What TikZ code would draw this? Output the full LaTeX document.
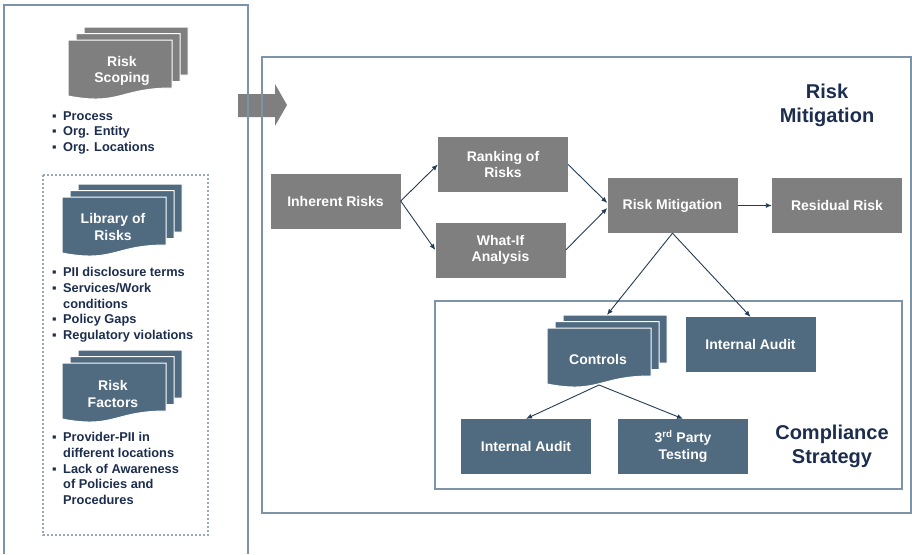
\documentclass[tikz,border=0pt]{standalone}
\usepackage{fontspec}
\setmainfont{Liberation Sans}
\usetikzlibrary{arrows.meta}

\definecolor{boxgray}{RGB}{127,127,127}
\definecolor{boxblue}{RGB}{80,106,128}
\definecolor{navy}{RGB}{28,45,78}
\definecolor{linkblue}{RGB}{35,60,85}
\definecolor{panelline}{RGB}{125,148,168}

\newcommand{\bul}{\makebox[11pt][l]{▪}}
\newcommand{\cont}{\hspace*{11pt}}

\tikzset{
  graybox/.style={fill=boxgray, text=white, minimum width=130pt, minimum height=55pt,
    align=center, inner sep=2pt, font=\fontsize{14}{16.5}\selectfont\bfseries},
  bluebox/.style={graybox, fill=boxblue},
  doclabel/.style={text=white, align=center, font=\fontsize{14}{16.5}\selectfont\bfseries},
  bullets/.style={anchor=north west, inner sep=0pt, align=left, text=navy,
    font=\fontsize{12.8}{15.8}\selectfont\bfseries},
  heading/.style={align=center, text=navy, font=\fontsize{20}{24.5}\selectfont\bfseries},
  flow/.style={-{Latex[length=6pt,width=5pt]}, linkblue, line width=0.9pt},
  panel/.style={panelline, line width=1.2pt},
  pics/docstack/.style={code={
    \foreach \k in {2,1,0}{
      \filldraw[fill=#1, draw=white, line width=1pt, shift={(8*\k,-6.5*\k)}]
        (0,0) -- (104,0) -- (104,48) .. controls (52,48) and (52,66) .. (0,56) -- cycle;
    }
    \coordinate (-top) at (60,-13);
    \coordinate (-bottom) at (52,57);
  }}
}

\begin{document}
\begin{tikzpicture}[x=1pt, y=-1pt]
    \useasboundingbox (0,0) rectangle (912,554);

    % Big arrow between the panels
    \fill[boxgray] (238,94) -- (275,94) -- (275,84) -- (287,105) -- (275,126) -- (275,117) -- (238,117) -- cycle;

    % Panels
    \draw[panel] (4,554) -- (4,5) -- (248,5) -- (248,554);
    \draw[panel] (262,57) rectangle (911,513);
    \draw[panel] (435,301) rectangle (902,489);
    \draw[panelline!80, line width=1.2pt, dash pattern=on 2pt off 2pt] (43,175) rectangle (208,535);

    % Left side: scoping, library, factors
    \pic at (68,40) {docstack=boxgray};
    \node[doclabel] (scoping) at (122,71) {Risk\\Scoping};
    \node[bullets] (scopelist) at (52,111) {\bul Process\\\bul Org. Entity\\\bul Org. Locations};

    \pic at (62,197) {docstack=boxblue};
    \node[doclabel] (library) at (113,227) {Library of\\Risks};
    \node[bullets] (librarylist) at (52,267) {\bul PII disclosure terms\\\bul Services/Work\\\cont conditions\\\bul Policy Gaps\\\bul Regulatory violations};

    \pic at (62,363) {docstack=boxblue};
    \node[doclabel] (factors) at (113,394) {Risk\\Factors};
    \node[bullets] (factorlist) at (52,432) {\bul Provider-PII in\\\cont different locations\\\bul Lack of Awareness\\\cont of Policies and\\\cont Procedures};

    % Risk mitigation flow
    \node[heading] (mittitle) at (827,105.5) {Risk\\Mitigation};
    \node[graybox] (inherent) at (335.5,201) {Inherent Risks};
    \node[graybox] (ranking) at (503,164.5) {Ranking of\\Risks};
    \node[graybox] (whatif) at (500.5,250) {What-If\\Analysis};
    \node[graybox] (mitig) at (672.5,205.5) {Risk Mitigation};
    \node[graybox] (residual) at (837,205.5) {Residual Risk};

    \draw[flow] (inherent.east) -- (ranking.west);
    \draw[flow] (inherent.east) -- (whatif.west);
    \draw[flow] (ranking.east) -- ([yshift=2.5pt]mitig.west);
    \draw[flow] (whatif.east) -- ([yshift=-2.5pt]mitig.west);
    \draw[flow] (mitig.east) -- (residual.west);

    % Compliance strategy
    \pic (ctrl) at (547,328) {docstack=boxblue};
    \node[doclabel] (controls) at (598,359) {Controls};
    \node[bluebox] (audit1) at (750.5,344.5) {Internal Audit};
    \node[bluebox] (audit2) at (526,446.5) {Internal Audit};
    \node[bluebox] (party) at (683,446.5) {3\textsuperscript{rd} Party\\Testing};
    \node[heading] (comptitle) at (832,446.5) {Compliance\\Strategy};

    \draw[flow] (mitig.south) -- (ctrl-top);
    \draw[flow] (mitig.south) -- (audit1.north);
    \draw[flow] (ctrl-bottom) -- (audit2.north);
    \draw[flow] (ctrl-bottom) -- (party.north);
\end{tikzpicture}
\end{document}
